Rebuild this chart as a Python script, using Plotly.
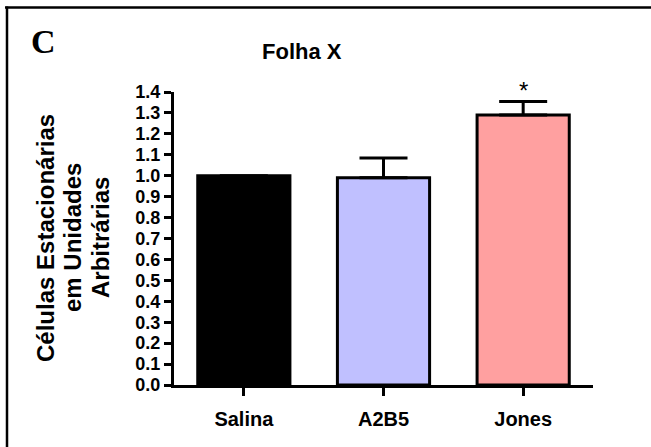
import plotly.graph_objects as go

categories = ["Salina", "A2B5", "Jones"]
values = [1.0, 0.99, 1.29]
errors_up = [0.0, 0.095, 0.065]
errors_down = [0.0, 0.0, 0.0]
bar_colors = ["#000000", "#c0c0ff", "#ffa0a0"]
y_ticks = [round(i * 0.1, 1) for i in range(15)]
y_title_lines = ["Células Estacionárias", "em Unidades", "Arbitrárias"]

FONT = "Liberation Sans, Arial, sans-serif"

fig = go.Figure()
fig.add_trace(go.Bar(
    x=categories, y=values, width=0.66,
    marker=dict(color=bar_colors, line=dict(color="black", width=3)),
    error_y=dict(type="data", symmetric=False, array=errors_up, arrayminus=errors_down,
                 color="black", thickness=3, width=24),
    showlegend=False,
))

L, R, T, B = 174, 58, 92, 62
W, H = 651, 447
pw, ph = W - L - R, H - T - B

def px(x):
    return (x - L) / pw

def py(y):
    return (H - B - y) / ph

annotations = [
    dict(text="<b>C</b>", x=px(43), y=py(41), xref="paper", yref="paper",
         xanchor="center", yanchor="middle", showarrow=False,
         font=dict(family="Liberation Serif, Times New Roman, serif", size=34, color="black")),
    dict(text="<b>Folha X</b>", x=px(302), y=py(52), xref="paper", yref="paper",
         xanchor="center", yanchor="middle", showarrow=False,
         font=dict(family=FONT, size=22, color="black")),
    dict(text="*", x="Jones", y=py(91), xref="x", yref="paper",
         xanchor="center", yanchor="middle", showarrow=False,
         font=dict(family=FONT, size=24, color="black")),
]
for line, xc in zip(y_title_lines, [45, 72, 100]):
    annotations.append(dict(text="<b>" + line + "</b>", x=px(xc), y=py(238),
                            xref="paper", yref="paper", xanchor="center", yanchor="middle",
                            textangle=-90, showarrow=False,
                            font=dict(family=FONT, size=24, color="black")))

shapes = [
    dict(type="line", xref="paper", yref="paper", x0=px(5), x1=px(660), y0=py(7.5), y1=py(7.5),
         line=dict(color="black", width=2.5)),
    dict(type="line", xref="paper", yref="paper", x0=px(7), x1=px(7), y0=py(6.5), y1=py(460),
         line=dict(color="black", width=2.5)),
]

fig.update_layout(
    width=W, height=H,
    margin=dict(l=L, r=R, t=T, b=B, pad=0),
    plot_bgcolor="white", paper_bgcolor="white",
    font=dict(family=FONT, color="black"),
    annotations=annotations, shapes=shapes,
)
fig.update_xaxes(
    range=[-0.5, 2.5], showline=True, linewidth=3, linecolor="black",
    ticks="outside", ticklen=8, tickwidth=3, tickcolor="black",
    tickfont=dict(family=FONT, size=20, color="black"),
    ticklabelstandoff=6, showgrid=False, zeroline=False,
    tickvals=categories, ticktext=["<b>" + c + "</b>" for c in categories],
)
fig.update_yaxes(
    range=[0, 1.4], showline=True, linewidth=3, linecolor="black",
    ticks="outside", ticklen=7, tickwidth=2.5, tickcolor="black",
    tickvals=y_ticks, ticktext=["<b>%.1f</b>" % v for v in y_ticks],
    tickfont=dict(family=FONT, size=18, color="black"),
    showgrid=False, zeroline=False,
)

fig.write_html("out.html", config={"displayModeBar": False},
               post_script="document.body.style.margin='0';")
